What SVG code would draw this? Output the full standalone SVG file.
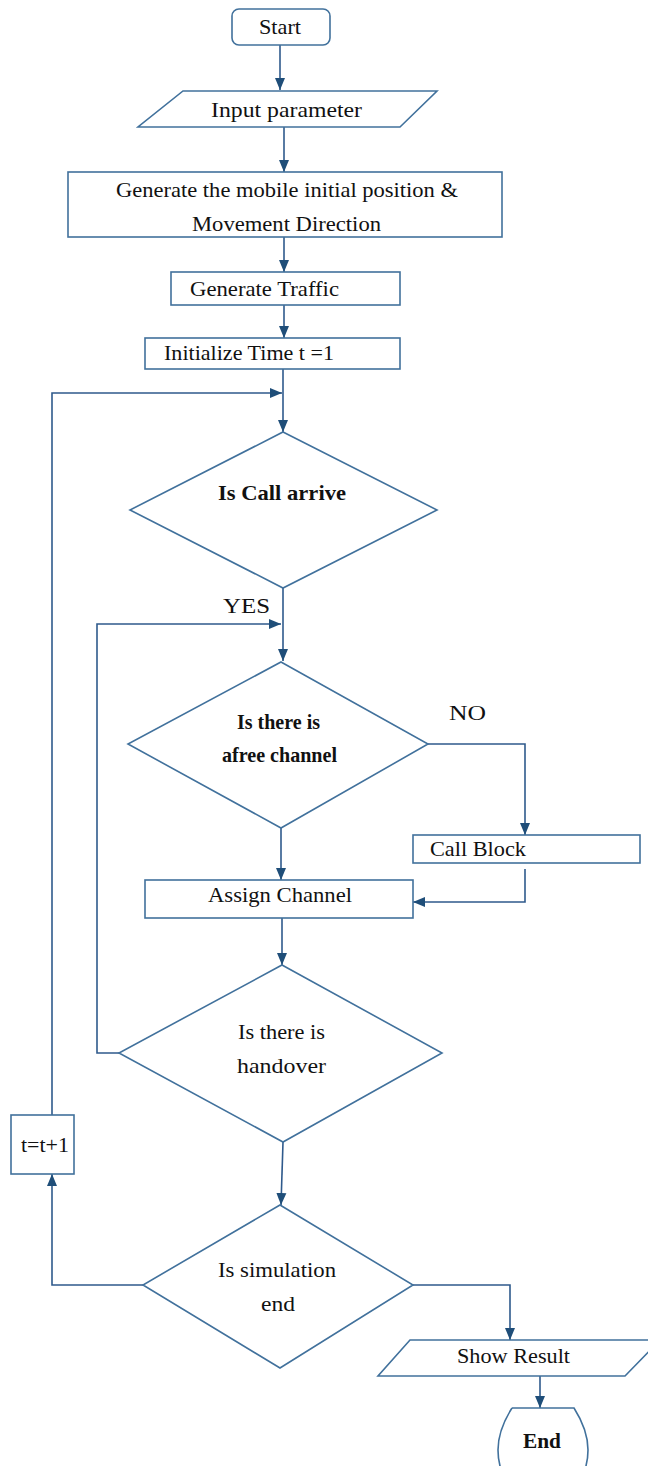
<svg xmlns="http://www.w3.org/2000/svg" width="648" height="1466" viewBox="0 0 648 1466">
<style>
.s{fill:#fff;stroke:#41719C;stroke-width:1.6}
.c{fill:none;stroke:#2F5A8C;stroke-width:1.6}
.t{font-family:"Liberation Serif","Times New Roman",serif;font-size:22px;fill:#111}
.b{font-weight:bold}
</style>
<defs>
<marker id="a" markerUnits="userSpaceOnUse" markerWidth="12" markerHeight="12" viewBox="0 0 12 12" refX="12" refY="6" orient="auto">
<path d="M0,1 L12,6 L0,11 Z" fill="#1F4E79"/>
</marker>
</defs>
<rect width="648" height="1466" fill="#fff"/>
<g id="connectors">
<path class="c" d="M280,45 V90" marker-end="url(#a)"/>
<path class="c" d="M284,127 V172" marker-end="url(#a)"/>
<path class="c" d="M284,237 V272" marker-end="url(#a)"/>
<path class="c" d="M284,305 V338" marker-end="url(#a)"/>
<path class="c" d="M283,369 V432" marker-end="url(#a)"/>
<path class="c" d="M52,1115 V393 H282" marker-end="url(#a)"/>
<path class="c" d="M283,588 V661" marker-end="url(#a)"/>
<path class="c" d="M119,1053 H97 V624 H281" marker-end="url(#a)"/>
<path class="c" d="M428,744 H525 V835" marker-end="url(#a)"/>
<path class="c" d="M525,869 V902 H413" marker-end="url(#a)"/>
<path class="c" d="M281,828 V880" marker-end="url(#a)"/>
<path class="c" d="M282,918 V965" marker-end="url(#a)"/>
<path class="c" d="M283,1142 L281,1205" marker-end="url(#a)"/>
<path class="c" d="M143,1285 H52 V1174" marker-end="url(#a)"/>
<path class="c" d="M413,1285 H510 V1340" marker-end="url(#a)"/>
<path class="c" d="M540,1376 V1408" marker-end="url(#a)"/>
<text class="t" x="223" y="613" textLength="47" lengthAdjust="spacingAndGlyphs">YES</text>
<text class="t" x="449" y="720" textLength="37" lengthAdjust="spacingAndGlyphs">NO</text>
</g>
<g id="start">
<rect class="s" x="232" y="9" width="98" height="36" rx="7"/>
<text class="t" x="259" y="34" textLength="42" lengthAdjust="spacingAndGlyphs">Start</text>
</g>
<g id="input">
<polygon class="s" points="183,91 437,91 400,127 138,127"/>
<text class="t" x="211" y="117" textLength="151" lengthAdjust="spacingAndGlyphs">Input parameter</text>
</g>
<g id="generate">
<rect class="s" x="68" y="172" width="434" height="65"/>
<text class="t" x="116" y="197" textLength="342" lengthAdjust="spacingAndGlyphs">Generate the mobile initial position &amp;</text>
<text class="t" x="192" y="231" textLength="189" lengthAdjust="spacingAndGlyphs">Movement Direction</text>
</g>
<g id="traffic">
<rect class="s" x="171" y="272" width="229" height="33"/>
<text class="t" x="190" y="296" textLength="149" lengthAdjust="spacingAndGlyphs">Generate Traffic</text>
</g>
<g id="init">
<rect class="s" x="145" y="338" width="255" height="31"/>
<text class="t" x="164" y="360" textLength="170" lengthAdjust="spacingAndGlyphs">Initialize Time t =1</text>
</g>
<g id="callarrive">
<polygon class="s" points="283,432 437,510 283,588 130,510"/>
<text class="t b" x="218" y="500" textLength="128" lengthAdjust="spacingAndGlyphs">Is Call arrive</text>
</g>
<g id="freechannel">
<polygon class="s" points="281,662 428,744 281,828 128,744"/>
<text class="t b" x="237" y="729" textLength="83" lengthAdjust="spacingAndGlyphs">Is there is</text>
<text class="t b" x="222" y="762" textLength="115" lengthAdjust="spacingAndGlyphs">afree channel</text>
</g>
<g id="callblock">
<rect class="s" x="413" y="835" width="227" height="28"/>
<text class="t" x="430" y="856" textLength="96" lengthAdjust="spacingAndGlyphs">Call Block</text>
</g>
<g id="assign">
<rect class="s" x="145" y="880" width="268" height="38"/>
<text class="t" x="208" y="902" textLength="144" lengthAdjust="spacingAndGlyphs">Assign Channel</text>
</g>
<g id="handover">
<polygon class="s" points="282,965 442,1053 283,1142 119,1053"/>
<text class="t" x="238" y="1039" textLength="87" lengthAdjust="spacingAndGlyphs">Is there is</text>
<text class="t" x="237" y="1073" textLength="89" lengthAdjust="spacingAndGlyphs">handover</text>
</g>
<g id="tinc">
<rect class="s" x="11" y="1115" width="63" height="59"/>
<text class="t" x="21" y="1152" textLength="48" lengthAdjust="spacingAndGlyphs">t=t+1</text>
</g>
<g id="simend">
<polygon class="s" points="280,1205 413,1285 280,1368 143,1285"/>
<text class="t" x="218" y="1277" textLength="118" lengthAdjust="spacingAndGlyphs">Is simulation</text>
<text class="t" x="261" y="1311" textLength="34" lengthAdjust="spacingAndGlyphs">end</text>
</g>
<g id="showresult">
<polygon class="s" points="410,1340 660,1340 625,1376 378,1376"/>
<text class="t" x="457" y="1363" textLength="113" lengthAdjust="spacingAndGlyphs">Show Result</text>
</g>
<g id="end">
<path class="s" d="M512,1408 H574 Q588,1430 588,1450 Q588,1462 584,1472 M512,1408 Q498,1430 498,1450 Q498,1462 502,1472"/>
<text class="t b" x="523" y="1448" textLength="38" lengthAdjust="spacingAndGlyphs">End</text>
</g>
</svg>
